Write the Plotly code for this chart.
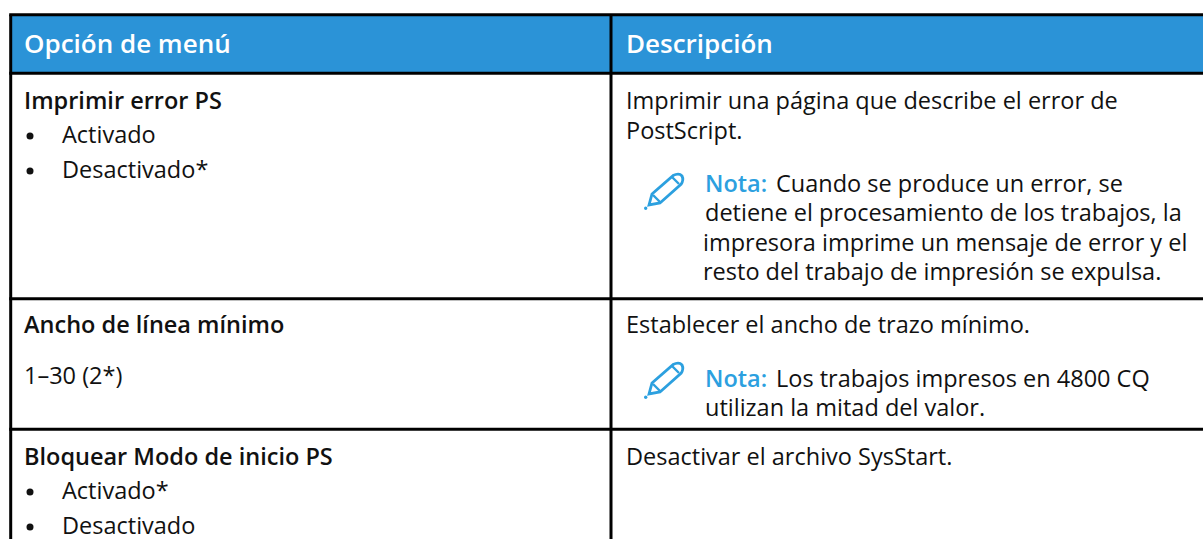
import plotly.graph_objects as go

HEADERS = ["Opción de menú", "Descripción"]
LEFT_BOLD = ["Imprimir error PS", "Ancho de línea mínimo", "Bloquear Modo de inicio PS"]
LEFT_PLAIN = ["1–30 (2*)"]
BULLET_ITEMS = ["Activado", "Desactivado*", "Activado*", "Desactivado"]
RIGHT_LINES = [
    "Imprimir una página que describe el error de",
    "PostScript.",
    "Establecer el ancho de trazo mínimo.",
    "Desactivar el archivo SysStart.",
]
NOTE_LABEL = "Nota:"
NOTE_LINES = [
    "Cuando se produce un error, se",
    "detiene el procesamiento de los trabajos, la",
    "impresora imprime un mensaje de error y el",
    "resto del trabajo de impresión se expulsa.",
    "Los trabajos impresos en 4800 CQ",
    "utilizan la mitad del valor.",
]

FONT = "Open Sans"
BLUE = "#2B93D7"
NOTE_BLUE = "#2CA0DF"
SIZE = 23.5
W, H = 1203, 539
XL, XD = 10.7, 611
YT, YH = 14.7, 73.3
ROWS = [298.7, 429.2]

fig = go.Figure()
shapes = [dict(type="rect", x0=XL, x1=W + 5, y0=YT, y1=YH, fillcolor=BLUE, line_width=0, layer="below")]
for y in [YT, YH] + ROWS:
    shapes.append(dict(type="line", x0=XL - 1.5, x1=W + 5, y0=y, y1=y, line=dict(color="black", width=3)))
for x in [XL, XD]:
    shapes.append(dict(type="line", x0=x, x1=x, y0=YT, y1=H + 5, line=dict(color="black", width=3)))


def pencil(x, y):
    body = (f"M{x+5},{y+33} L{x+8},{y+22} L{x+29},{y+3.6} Q{x+35},{y+0.5} {x+38},{y+4} "
            f"Q{x+40},{y+8} {x+37},{y+12.4} L{x+16},{y+31} Z")
    return [
        dict(type="path", path=body, line=dict(color=NOTE_BLUE, width=2.8), fillcolor="rgba(0,0,0,0)"),
        dict(type="line", x0=x + 28, x1=x + 35, y0=y + 5, y1=y + 12, line=dict(color=NOTE_BLUE, width=2.4)),
        dict(type="line", x0=x + 9, x1=x + 16, y0=y + 23, y1=y + 30, line=dict(color=NOTE_BLUE, width=2.4)),
        dict(type="circle", x0=x, x1=x + 3.4, y0=y + 34.6, y1=y + 38, fillcolor=NOTE_BLUE, line_width=0),
    ]


shapes += pencil(644, 172) + pencil(644, 361)

ann = []


def text(x, base, s, weight=400, color="#111111", size=SIZE):
    ann.append(dict(x=x, y=base + 0.7 - size * 0.36, text=s, showarrow=False,
                    xanchor="left", yanchor="middle", xshift=-2,
                    font=dict(family=FONT, size=size, color=color, weight=weight)))


text(24, 52, HEADERS[0], 600, "white", 26)
text(626, 52, HEADERS[1], 600, "white", 26)

for s, base in zip(LEFT_BOLD, [108, 332, 464]):
    text(24, base, s, 600)
text(24, 383, LEFT_PLAIN[0])
bullet_bases = [142, 177, 498, 533]
for s, base in zip(BULLET_ITEMS, bullet_bases):
    text(62, base, s)

fig.add_trace(go.Scatter(
    x=[30] * len(bullet_bases), y=[b - 6 for b in bullet_bases], mode="markers",
    marker=dict(color="#111111", size=7), hoverinfo="skip", cliponaxis=False,
))

for s, base in zip(RIGHT_LINES, [108, 138, 332, 464]):
    text(626, base, s)

for base in [191, 386]:
    text(705, base, NOTE_LABEL, 600, NOTE_BLUE)
for s, x, base in zip(NOTE_LINES, [776, 705, 703, 703, 776, 705], [191, 220, 250, 279, 386, 415]):
    text(x, base, s)

fig.update_layout(
    width=W, height=H, margin=dict(l=0, r=0, t=0, b=0),
    paper_bgcolor="white", plot_bgcolor="white", showlegend=False,
    xaxis=dict(range=[0, W], visible=False, fixedrange=True),
    yaxis=dict(range=[H, 0], visible=False, fixedrange=True),
    shapes=shapes, annotations=ann,
)
fig.write_html("out.html", config=dict(displayModeBar=False),
               post_script="document.body.style.margin='0';document.body.style.overflow='hidden';")
